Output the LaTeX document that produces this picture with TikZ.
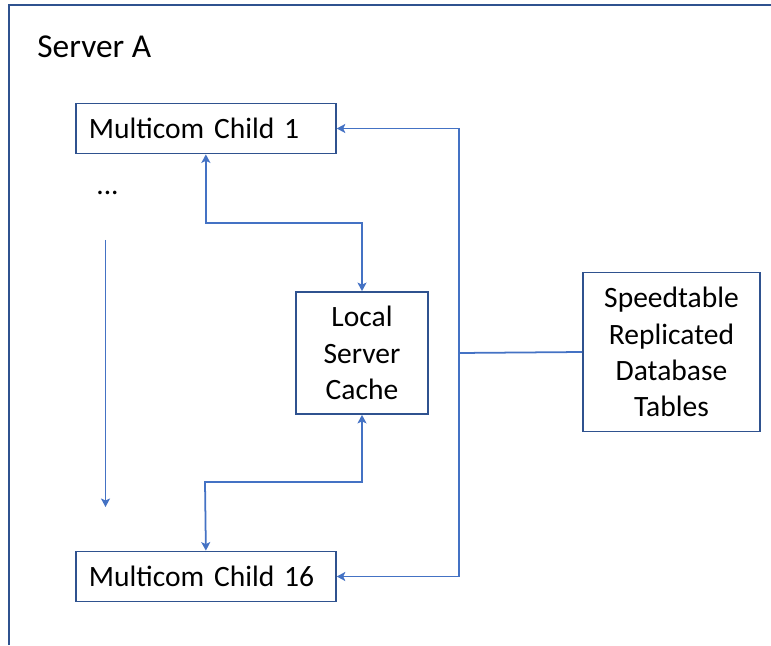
\documentclass[tikz,border=0pt]{standalone}
\usepackage{fontspec}
\setmainfont{Carlito}
\usetikzlibrary{arrows.meta}
\definecolor{boxblue}{RGB}{47,82,143}
\definecolor{linkblue}{RGB}{68,114,196}

\begin{document}
\begin{tikzpicture}[
box/.style = {draw=boxblue, line width=1pt, fill=white, font=\fontsize{16.8}{20.6}\selectfont},
child/.style = {box, anchor=west, text width=4.68cm, inner xsep=0.26cm, minimum height=1cm, align=left},
link/.style = {draw=linkblue, line width=1pt, arrows={-Stealth[length=1.7mm,width=1.8mm,inset=0.4mm]}},
plain/.style = {draw=linkblue, line width=1pt}]
\useasboundingbox (0,0) rectangle (15.42,12.9);
\draw[boxblue, line width=1pt] (0.18,0) |- (15.42,12.8);
\node[anchor=west, inner sep=0pt, font=\fontsize{19}{23}\selectfont] (server) at (0.74,11.96) {Server A};
    \node[child] (child1) at (1.5,10.33) {Multicom Child 1};
    \node[child] (child16) at (1.5,1.37) {Multicom Child 16};
    \node[box, minimum width=2.64cm, minimum height=2.44cm, align=center] (cache) at (7.24,5.84) {Local\\Server\\Cache};
    \node[box, minimum width=3.54cm, minimum height=3.18cm, align=center] (speedtable) at (13.43,5.86) {Speedtable\\Replicated\\Database\\Tables};
    \node[anchor=base, font=\fontsize{16.8}{20.6}\selectfont] (dots) at (2.15,9.0) {...};
    \coordinate (up) at (7.24,8.44);
    \coordinate (down) at (4.1,3.26);
    \coordinate (bus) at (9.18,5.84);
    \coordinate (gaptop) at (2.11,8.1);
    \coordinate (gapbot) at (2.11,2.76);
\draw[link, arrows={Stealth[length=1.7mm,width=1.8mm,inset=0.4mm]-Stealth[length=1.7mm,width=1.8mm,inset=0.4mm]}] (child1.south) |- (up) -- (cache.north);
\draw[link, arrows={Stealth[length=1.7mm,width=1.8mm,inset=0.4mm]-Stealth[length=1.7mm,width=1.8mm,inset=0.4mm]}] (cache.south) |- (down) -- (child16.north);
\draw[plain] (speedtable.west) -- (bus);
\draw[link] (bus) |- (child1.east);
\draw[link] (bus) |- (child16.east);
\draw[link] (gaptop) -- (gapbot);

\end{tikzpicture}
\end{document}
